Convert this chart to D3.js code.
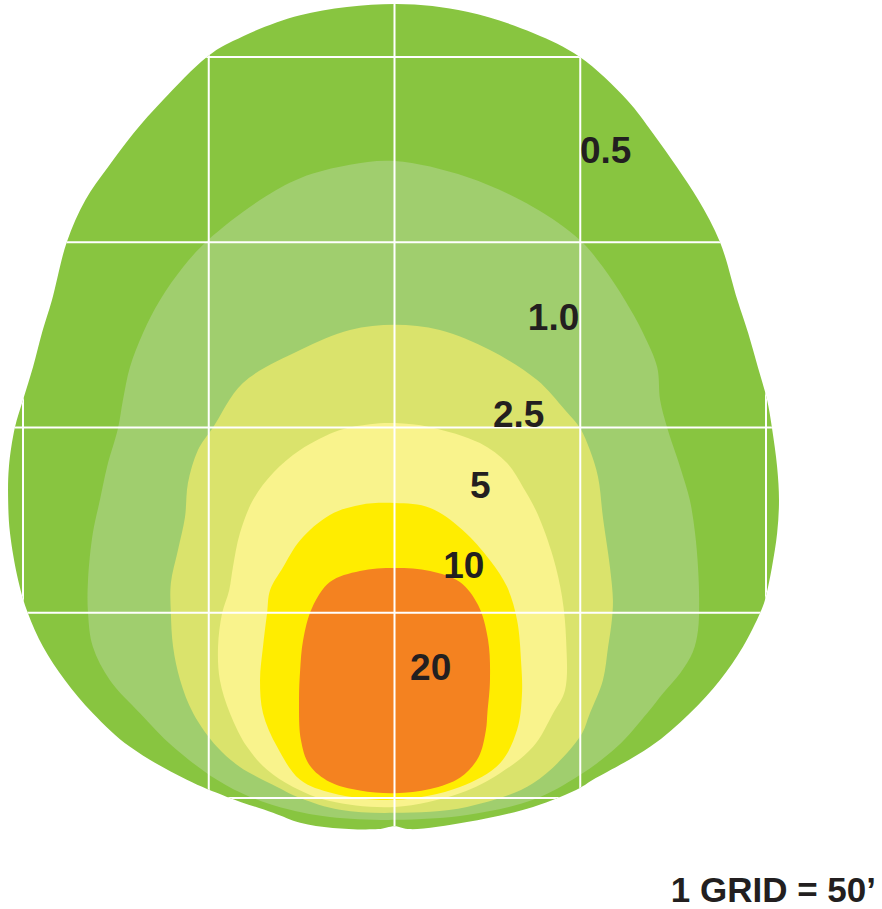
<!DOCTYPE html>
<html>
<head>
<meta charset="utf-8">
<script src="https://cdn.jsdelivr.net/npm/d3@7"></script>
<style>
  html, body { margin: 0; padding: 0; background: #ffffff; }
  svg { display: block; }
</style>
</head>
<body>
<svg id="chart" width="882" height="909"></svg>
<script>
// ---- DATA (feet; x = lateral offset from fixture axis, y = distance along throw) ----
const gridFeet = 50;
const xGridValues = [-100, -50, 0, 50, 100];
const yGridValues = [0, 50, 100, 150, 200];

const contourLevels = ["0.5", "1.0", "2.5", "5", "10", "20"];
const contourColors = ["#88c540", "#a0ce6e", "#dae36c", "#f9f38c", "#ffed00", "#f48220"];

const contour05 = [
  [0,214.3],[19.5,212.2],[37.3,206.5],[49.9,200],[62.6,188.4],[69.5,179.5],[76.0,170.3],[81.8,161.4],
  [87.6,150.1],[92.3,134.4],[95.2,125.5],[97.8,116.3],[100.3,107.4],[101.6,99.9],[103.0,89.3],[103.5,80.4],
  [103.0,71.5],[101.6,62.3],[99.7,53.4],[98.4,49.9],[93.8,40.8],[87.6,31.8],[79.5,22.9],[68.8,13.8],
  [53.4,4.9],[49.9,2.7],[37.3,-2.4],[19.5,-6.5],[4.2,-8.4],[0,-7.6],[-4.4,-8.4],[-16.6,-8.1],
  [-25.4,-6.7],[-32.7,-4.0],[-45.1,0.3],[-55.9,4.9],[-71.2,13.8],[-81.2,22.9],[-88.7,31.8],[-94.6,40.8],
  [-98.7,49.9],[-101.3,58.8],[-103.5,71.5],[-104.0,80.4],[-103.8,89.3],[-102.2,99.9],[-100.0,107.4],
  [-97.3,116.3],[-94.9,125.5],[-92.2,134.4],[-88.2,150.1],[-83.2,161.4],[-77.1,170.3],[-70.2,179.5],
  [-62.3,188.4],[-50.5,200],[-43.5,204.3],[-25.4,211.3]
];
const contour10 = [
  [0.1,171.9],[19.5,167.6],[37.3,159.5],[49.9,150.6],[56.1,143.3],[62.0,134.4],[66.9,125.5],[70.7,116.3],
  [71.5,107.4],[73.4,99.9],[76.9,89.3],[79.5,80.4],[80.9,71.5],[81.7,62.3],[82.0,53.4],[81.7,45.3],
  [80.3,39.4],[76.9,33.7],[72.3,28.3],[68.0,22.9],[59.9,13.8],[49.9,6.2],[37.3,-0.5],[19.5,-4.6],
  [0.1,-5.9],[-17.4,-5.1],[-28.1,-3.2],[-38.9,0.3],[-47.8,4.9],[-59.6,13.8],[-68.5,22.9],[-76.6,31.8],
  [-81.2,40.8],[-82.5,49.9],[-82.5,58.8],[-81.2,71.5],[-79.3,80.4],[-77.4,89.3],[-74.4,99.9],[-73.1,107.4],
  [-71.2,116.3],[-67.7,125.5],[-63.1,134.4],[-56.9,143.3],[-50.2,150.6],[-36.2,161.4],[-25.4,167.3],[-12.0,170.9]
];
const contour25 = [
  [0,127.7],[12.2,126.3],[25.7,120.9],[38.4,112.8],[45.9,104.7],[49.9,99.9],[52.6,93.9],[54.8,86.6],
  [56.1,75.8],[58.0,62.3],[58.8,53.4],[58.5,48.0],[57.5,40.8],[56.1,31.8],[52.6,22.9],[49.9,16.5],
  [37.3,4.0],[19.5,-2.4],[0.1,-4.0],[-14.7,-3.2],[-25.4,0],[-31.6,3.0],[-41.6,8.4],[-47.8,13.8],
  [-54.2,22.9],[-57.7,31.8],[-59.6,40.8],[-60.2,49.9],[-60.2,58.0],[-58.3,66.9],[-56.4,75.8],[-55.6,85.0],
  [-52.9,93.9],[-48.9,99.9],[-40.8,112.0],[-25.4,120.9],[-12.0,126.3]
];
const contour5 = [
  [0.1,101.2],[9.6,100.1],[23.0,95.8],[30.3,90.4],[34.6,83.9],[38.4,76.9],[42.7,65.0],[45.1,54.3],
  [46.2,42.6],[45.9,29.1],[42.7,22.9],[37.3,13.8],[28.4,6.7],[17.6,1.3],[0.1,-2.4],[-17.4,-0.8],
  [-27.3,3.0],[-34.3,7.6],[-39.7,13.8],[-44.3,22.9],[-47.0,31.8],[-47.5,40.8],[-46.4,49.9],[-44.5,56.1],
  [-43.5,62.3],[-41.6,71.5],[-38.1,80.4],[-32.7,87.7],[-25.4,93.9],[-14.7,99.3],[-6.6,100.9]
];
const contour10fc = [
  [0.1,79.6],[9.6,78.3],[18.4,72.3],[25.7,64.2],[30.3,57.0],[33.0,48.0],[34.1,36.4],[34.3,27.8],
  [33.0,18.4],[28.4,9.4],[17.6,3.0],[0.1,-0.5],[-16.6,1.3],[-25.4,4.9],[-31.6,13.8],[-35.4,22.9],
  [-36.2,31.8],[-35.4,40.8],[-34.3,49.9],[-33.5,56.1],[-30.0,62.3],[-25.4,69.6],[-17.4,76.4],[-9.3,79.1]
];
const contour20 = [
  [0.1,62.1],[9.6,61.3],[17.6,58.3],[22.5,52.1],[25.2,42.6],[25.7,31.8],[25.0,22.9],[24.6,18.3],
  [22.6,11.0],[17.8,5.6],[9.6,2.4],[0.1,1.3],[-9.3,2.0],[-17.4,4.3],[-22.9,8.9],[-25.2,15.7],
  [-25.7,26.5],[-25.4,34.5],[-24.6,42.6],[-22.2,51.3],[-17.4,58.3],[-9.3,61.3]
];
const contours = [contour05, contour10, contour25, contour5, contour10fc, contour20];

// label anchor points (feet)
const labelX = [49.9, 35.9, 26.5, 20.3, 13.1, 4.2];
const labelY = [171.4, 126.3, 100.1, 81.0, 59.4, 31.8];

const scaleCaption = "1 GRID = 50\u2019";

// ---- DRAWING ----
const svg = d3.select("#chart");
const x = d3.scaleLinear().domain([-100, 100]).range([23, 766]);
const y = d3.scaleLinear().domain([0, 200]).range([798, 57]);

const line = d3.line()
  .x(d => x(d[0]))
  .y(d => y(d[1]))
  .curve(d3.curveCatmullRomClosed.alpha(0.5));

svg.append("rect").attr("width", 882).attr("height", 909).attr("fill", "#ffffff");

svg.append("clipPath").attr("id", "outerClip")
  .append("path").attr("d", line(contour05));

svg.append("g").selectAll("path")
  .data(contours)
  .join("path")
  .attr("d", d => line(d))
  .attr("fill", (d, i) => contourColors[i]);

// grid (white lines clipped to the outermost contour)
const grid = svg.append("g").attr("clip-path", "url(#outerClip)");
grid.selectAll("line.v")
  .data(xGridValues)
  .join("line")
  .attr("class", "v")
  .attr("x1", d => x(d)).attr("x2", d => x(d))
  .attr("y1", 0).attr("y2", 860)
  .attr("stroke", "#ffffff").attr("stroke-width", 2);
grid.selectAll("line.h")
  .data(yGridValues)
  .join("line")
  .attr("class", "h")
  .attr("y1", d => y(d)).attr("y2", d => y(d))
  .attr("x1", 0).attr("x2", 882)
  .attr("stroke", "#ffffff").attr("stroke-width", 2);

// contour labels
svg.append("g").selectAll("text")
  .data(contourLevels)
  .join("text")
  .attr("x", (d, i) => x(labelX[i]))
  .attr("y", (d, i) => y(labelY[i]))
  .attr("font-family", "'Liberation Sans', Arial, sans-serif")
  .attr("font-weight", "bold")
  .attr("font-size", 37)
  .attr("fill", "#231f20")
  .text(d => d);

svg.append("text")
  .attr("x", 876).attr("y", 902)
  .attr("text-anchor", "end")
  .attr("font-family", "'Liberation Sans', Arial, sans-serif")
  .attr("font-weight", "bold")
  .attr("font-size", 35)
  .attr("fill", "#231f20")
  .text(scaleCaption);
</script>
</body>
</html>
